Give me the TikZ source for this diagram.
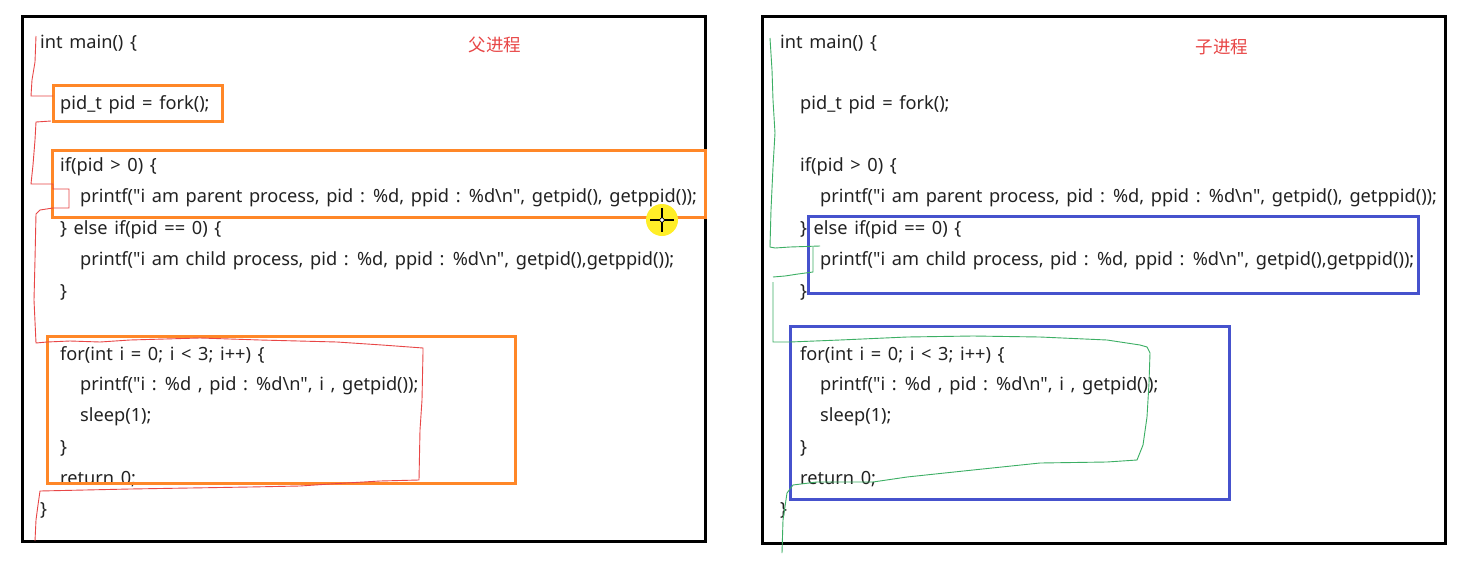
\documentclass[tikz,border=0pt]{standalone}
\usepackage{fontspec}
\newfontfamily\codefont{Noto Sans}[WordSpace=1.4]
\newfontfamily\cjk{Noto Sans CJK SC}
\newcommand\dq{\symbol{34}}
\definecolor{codegray}{RGB}{34,34,34}
\definecolor{orangebox}{RGB}{255,135,40}
\definecolor{bluebox}{RGB}{70,82,205}
\definecolor{redpen}{RGB}{232,70,70}
\definecolor{greenpen}{RGB}{60,175,100}
\definecolor{cursoryellow}{RGB}{255,238,40}
\begin{document}
\begin{tikzpicture}[x=1pt,y=-1pt,
  code/.style={anchor=west,inner sep=0pt,font=\codefont\fontsize{18.2}{20}\selectfont,text=codegray},
  title/.style={inner sep=0pt,font=\cjk\fontsize{17.5}{19}\selectfont,text=redpen},
  panel/.style={draw=black,line width=3pt},
  obox/.style={draw=orangebox,line width=3pt},
  bbox/.style={draw=bluebox,line width=3pt},
  rpen/.style={draw=redpen,line width=0.9pt},
  gpen/.style={draw=greenpen,line width=0.9pt}]
\useasboundingbox (0,0) rectangle (1470,576);
\fill[white] (0,0) rectangle (1470,576);

% panels
\draw[panel] (22,16) rectangle (705,541);
\draw[panel] (762,16) rectangle (1445,543);

% code text, both panels
\foreach \dx/\p in {0/L,740/R}{
  \node[code] (\p1) at (40+\dx,43) {int main() \{};
  \node[code] (\p2) at (60+\dx,105) {pid\_t pid = fork();};
  \node[code] (\p3) at (60+\dx,167) {if(pid > 0) \{};
  \node[code] (\p4) at (80+\dx,198) {printf(\dq i am parent process, pid : \%d, ppid : \%d\textbackslash n\dq, getpid(), getppid());};
  \node[code] (\p5) at (60+\dx,230) {\} else if(pid == 0) \{};
  \node[code] (\p6) at (80+\dx,261) {printf(\dq i am child process, pid : \%d, ppid : \%d\textbackslash n\dq, getpid(),getppid());};
  \node[code] (\p7) at (60+\dx,292) {\}};
  \node[code] (\p8) at (60+\dx,355) {for(int i = 0; i < 3; i++) \{};
  \node[code] (\p9) at (80+\dx,386) {printf(\dq i : \%d , pid : \%d\textbackslash n\dq, i , getpid());};
  \node[code] (\p10) at (80+\dx,417) {sleep(1);};
  \node[code] (\p11) at (60+\dx,448) {\}};
  \node[code] (\p12) at (60+\dx,479) {return 0;};
  \node[code] (\p13) at (40+\dx,510) {\}};
}

\node[title] (tparent) at (495,45) {父进程};
\node[title] (tchild) at (1222,47) {子进程};

% orange boxes (parent)
\draw[obox] (53,85) rectangle (222,121);
\draw[obox] (52,150) rectangle (705,217);
\draw[obox] (47,336) rectangle (515,483);

% blue boxes (child)
\draw[bbox] (808,216) rectangle (1418,293);
\draw[bbox] (790,326) rectangle (1229,499);

% red freehand trace
\draw[rpen] (36,36) -- (35,62) -- (32,80) -- (31,96) -- (53,96);
\draw[rpen] (51,121) -- (36,122) -- (35,140) -- (33,165) -- (31,184) -- (53,184)
  -- (53,189) -- (69,189) -- (69,208) -- (53,208) -- (40,210) -- (36,214)
  -- (35,260) -- (34,300) -- (36,343) -- (47,342) -- (70,341) -- (100,342)
  -- (130,340) -- (200,338) -- (260,340) -- (337,342) -- (382,345) -- (423,348)
  -- (423,352) -- (422,400) -- (420,430) -- (419,480) -- (380,481) -- (330,484)
  -- (300,486) -- (250,487) -- (130,489) -- (40,491) -- (38,505) -- (36,520) -- (35,541);

% green freehand trace
\draw[gpen] (770,38) -- (772,70) -- (773,100) -- (775,133) -- (773,167) -- (771,210)
  -- (770,247) -- (775,248) -- (790,247) -- (820,246);
\draw[gpen] (813,247) -- (813,272) -- (798,274) -- (785,276) -- (773,277);
\draw[gpen] (773,282) -- (773,320) -- (773,342) -- (790,342) -- (840,340) -- (907,337)
  -- (973,336) -- (1040,337) -- (1107,340) -- (1140,345) -- (1147,347) -- (1150,353)
  -- (1149,383) -- (1147,417) -- (1143,445) -- (1137,460) -- (1107,462) -- (1040,463)
  -- (973,470) -- (907,477) -- (873,482) -- (817,482) -- (793,485) -- (787,493)
  -- (783,520) -- (782,553);

% mouse cursor marker
\fill[cursoryellow] (662,220) circle (16);
\draw[black,line width=1.2pt] (650,220) -- (674,220) (662,208) -- (662,232);
\draw[black,fill=white,line width=0.6pt] (662,220) circle (2.2);
\end{tikzpicture}
\end{document}
